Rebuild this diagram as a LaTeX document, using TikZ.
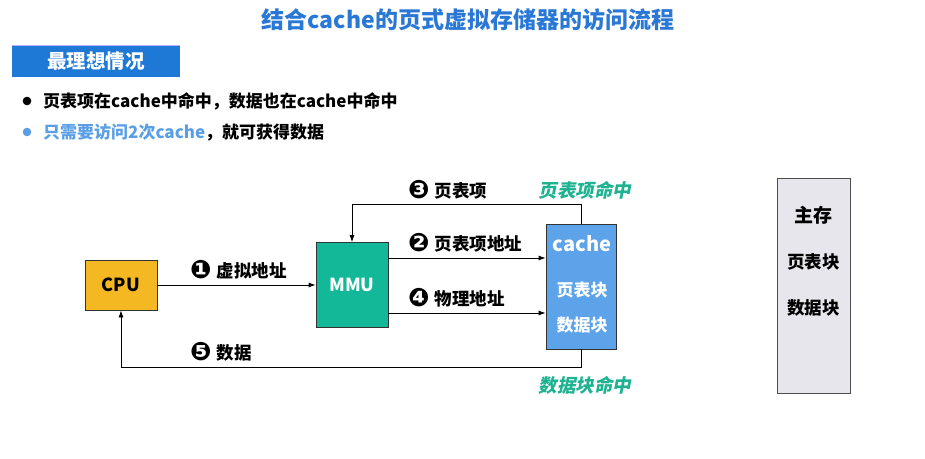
\documentclass[tikz,border=0pt]{standalone}
\usepackage{fontspec}
\usepackage{graphicx}
\setmainfont{Noto Sans CJK SC}
\newfontfamily\cjkit{Noto Sans CJK SC}[FakeSlant=0.2]
\newfontfamily\dv{DejaVu Sans}
\usetikzlibrary{arrows.meta}
\definecolor{titleblue}{HTML}{2A78D6}
\definecolor{bannerblue}{HTML}{1E79D6}
\definecolor{lightblue}{HTML}{5A9FE6}
\definecolor{cpuc}{HTML}{F4B922}
\definecolor{mmuc}{HTML}{12B897}
\definecolor{cachec}{HTML}{5DA3EA}
\definecolor{memc}{HTML}{E6E6EC}
\definecolor{tealtxt}{HTML}{1DB391}
\newcommand{\cnum}[1]{\raisebox{-1.5pt}{\scalebox{1.45}{\dv #1}}\hspace{5pt}}
\tikzset{
  unitbox/.style={draw=black!80, line width=0.8pt, inner sep=0pt},
  arr/.style={draw=black, line width=0.8pt, -{Latex[length=7pt,width=5pt]}},
  lbl/.style={anchor=west, inner sep=0pt, font=\fontsize{17.5}{19}\selectfont\bfseries},
  hit/.style={inner sep=0pt, text=tealtxt, font=\cjkit\fontsize{18.5}{20}\selectfont\bfseries},
  boxtxt/.style={inner sep=0pt, text=white, font=\fontsize{17}{19}\selectfont\bfseries},
}
\begin{document}
\begin{tikzpicture}[x=1pt,y=1pt]
\useasboundingbox (0,0) rectangle (925,-458);
% title
\node[inner sep=0pt, text=titleblue, font=\fontsize{23}{26}\selectfont\bfseries] (title) at (468,-20) {结合cache的页式虚拟存储器的访问流程};
% banner
\fill[bannerblue] (12,-45) rectangle (180,-77);
\draw[blue!30, line width=0.6pt] (12,-45.3) -- (180,-45.3);
\node[inner sep=0pt, text=white, font=\fontsize{19.5}{21}\selectfont\bfseries] (banner) at (96,-61) {最理想情况};
% bullets
\fill[black] (27,-101) circle (4.3);
\node[anchor=west, inner sep=0pt, font=\fontsize{17}{19}\selectfont\bfseries] (b1) at (43,-101) {页表项在cache中命中，数据也在cache中命中};
\fill[lightblue] (27,-132) circle (4.3);
\node[anchor=west, inner sep=0pt, font=\fontsize{17}{19}\selectfont\bfseries] (b2) at (43,-132) {\textcolor{lightblue}{只需要访问2次cache}，就可获得数据};
% boxes
\node[unitbox, fill=cpuc, minimum width=72pt, minimum height=50pt, font=\fontsize{18}{20}\selectfont\bfseries] (cpu) at (121,-285) {CPU};
\node[unitbox, fill=mmuc, minimum width=72pt, minimum height=85pt, text=white, font=\fontsize{18}{20}\selectfont\bfseries] (mmu) at (352,-285) {MMU};
\node[unitbox, fill=cachec, minimum width=70pt, minimum height=125pt] (cache) at (581,-286.5) {};
\node[boxtxt, font=\fontsize{20}{22}\selectfont\bfseries] (ct1) at (582,-244) {cache};
\node[boxtxt] (ct2) at (582,-290) {页表块};
\node[boxtxt] (ct3) at (582,-325) {数据块};
\node[draw=black!70, line width=0.8pt, fill=memc, minimum width=73pt, minimum height=215pt, inner sep=0pt] (mem) at (813.5,-285.5) {};
\node[inner sep=0pt, font=\fontsize{19}{21}\selectfont\bfseries] (m1) at (813.5,-215) {主存};
\node[inner sep=0pt, font=\fontsize{17.5}{19}\selectfont\bfseries] (m2) at (813.5,-262) {页表块};
\node[inner sep=0pt, font=\fontsize{17.5}{19}\selectfont\bfseries] (m3) at (813.5,-308) {数据块};
% arrows
\draw[arr] (cpu.east) -- (mmu.west);
\draw[arr] ([yshift=27pt]mmu.east) -- ([yshift=27pt]mmu.east -| cache.west);
\draw[arr] ([yshift=-28pt]mmu.east) -- ([yshift=-28pt]mmu.east -| cache.west);
\draw[arr] (cache.north) -- ++(0,19) -| (mmu.north);
\draw[arr] (cache.south) -- ++(0,-18) -| (cpu.south);
% labels
\node[lbl] (l1) at (190,-270) {\cnum{❶}虚拟地址};
\node[lbl] (l2) at (408,-243) {\cnum{❷}页表项地址};
\node[lbl] (l3) at (408,-190) {\cnum{❸}页表项};
\node[lbl] (l4) at (408,-298) {\cnum{❹}物理地址};
\node[lbl] (l5) at (190,-352) {\cnum{❺}数据};
\node[hit] (h1) at (585,-190) {页表项命中};
\node[hit] (h2) at (585,-385) {数据块命中};
\end{tikzpicture}
\end{document}
